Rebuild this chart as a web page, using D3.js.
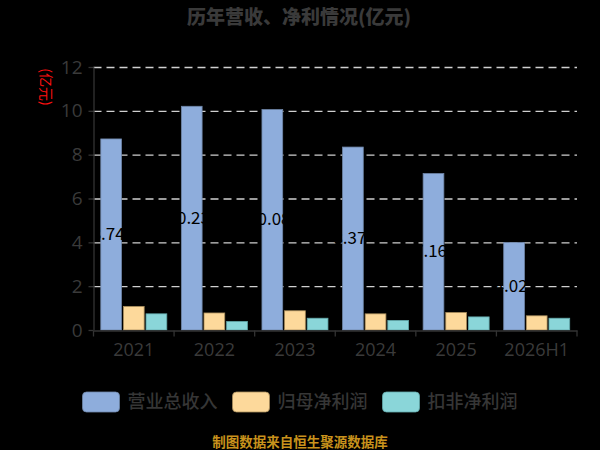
<!DOCTYPE html>
<html>
<head>
<meta charset="utf-8">
<script src="https://cdn.jsdelivr.net/npm/d3@7"></script>
<style>
  html, body { margin: 0; padding: 0; background: #000; }
  svg text { font-family: "Noto Sans CJK SC", "Noto Sans", sans-serif; }
</style>
</head>
<body>
<div id="chart"></div>
<script>
const years = ['2021', '2022', '2023', '2024', '2025', '2026H1'];
const seriesNames = ['营业总收入', '归母净利润', '扣非净利润'];
const revenue = [8.74, 10.23, 10.08, 8.37, 7.16, 4.02];
const netProfit = [1.10, 0.80, 0.90, 0.76, 0.82, 0.67];
const deductedProfit = [0.76, 0.41, 0.56, 0.46, 0.62, 0.56];
const yTicks = [0, 2, 4, 6, 8, 10, 12];

const fills = ['#8eaddc', '#fdd99b', '#8ad6d9'];
const strokes = ['#6f86a8', '#a88d5c', '#63a9ab'];

const rows = years.map((y, i) => ({
  year: y,
  vals: [revenue[i], netProfit[i], deductedProfit[i]]
}));

const svgWidth = 600, svgHeight = 450;
const svg = d3.select('#chart').append('svg')
  .attr('width', svgWidth)
  .attr('height', svgHeight)
  .style('background', '#000');

const x = d3.scaleBand().domain(years).range([93.5, 577]).padding(0);
const xInner = d3.scaleBand().domain([0, 1, 2]).range([0, x.bandwidth()]).paddingOuter(0.3).paddingInner(0.04);
const y = d3.scaleLinear().domain([0, 12]).range([330, 67]);

// title
svg.append('text')
  .attr('x', 299).attr('y', 24)
  .attr('text-anchor', 'middle')
  .attr('font-size', 19).attr('font-weight', 900)
  .attr('fill', '#3a3a3a')
  .text('历年营收、净利情况(亿元)');

// y unit label
svg.append('text')
  .attr('transform', 'translate(41,87) rotate(90)')
  .attr('text-anchor', 'middle')
  .attr('font-size', 14)
  .attr('fill', '#ff1010')
  .text('(亿元)');

// grid lines
svg.append('g').selectAll('line')
  .data(yTicks.filter(d => d > 0))
  .enter().append('line')
  .attr('x1', 93.5).attr('x2', 577)
  .attr('y1', d => y(d) + 0.5).attr('y2', d => y(d) + 0.5)
  .attr('stroke', '#d0d0d0')
  .attr('stroke-width', 1.3)
  .attr('stroke-dasharray', '8,5');

// bars
const groups = svg.append('g').selectAll('g')
  .data(rows)
  .enter().append('g')
  .attr('transform', d => `translate(${x(d.year)},0)`);

groups.selectAll('rect')
  .data(d => d.vals.map((v, k) => ({ v, k })))
  .enter().append('rect')
  .attr('x', d => xInner(d.k) + 0.5)
  .attr('y', d => y(d.v) + 0.5)
  .attr('width', xInner.bandwidth() - 1)
  .attr('height', d => y(0) - y(d.v) - 0.5)
  .attr('fill', d => fills[d.k])
  .attr('stroke', d => strokes[d.k])
  .attr('stroke-width', 0.8);

// value labels on revenue bars (dark text, only readable over the bar)
groups.append('text')
  .attr('x', xInner(0) + xInner.bandwidth() / 2 - 3)
  .attr('y', d => (y(d.vals[0]) + y(0)) / 2)
  .attr('dy', '0.35em')
  .attr('text-anchor', 'middle')
  .attr('font-size', 17)
  .attr('fill', '#000')
  .text(d => d.vals[0].toFixed(2));

// y axis
const yAxis = svg.append('g')
  .attr('transform', 'translate(93.5,0)')
  .call(d3.axisLeft(y).tickValues(yTicks).tickSize(5).tickSizeOuter(0).tickPadding(6));
yAxis.select('.domain').attr('stroke', '#333').attr('stroke-width', 1.3);
yAxis.selectAll('.tick line').attr('stroke', '#333').attr('stroke-width', 1.3);
yAxis.selectAll('.tick text').attr('fill', '#3a3a3a').attr('font-size', 19)
  .style('font-family', '"Open Sans", "Noto Sans", sans-serif');

// x axis
const xAxis = svg.append('g')
  .attr('transform', 'translate(0,330.5)')
  .call(d3.axisBottom(x).tickSize(0).tickPadding(9));
xAxis.select('.domain').attr('stroke', '#333').attr('stroke-width', 1.3);
xAxis.selectAll('.tick text').attr('fill', '#3a3a3a').attr('font-size', 18)
  .attr('dy', '0.9em')
  .style('font-family', '"Open Sans", "Noto Sans", sans-serif');
xAxis.append('g').selectAll('line')
  .data(years.map(d => x(d)).concat([x.range()[1]]))
  .enter().append('line')
  .attr('x1', d => d).attr('x2', d => d)
  .attr('y1', 0).attr('y2', 6)
  .attr('stroke', '#333').attr('stroke-width', 1.3);

// legend
const legendX = [82.5, 232.5, 382.5];
const legend = svg.append('g').selectAll('g')
  .data(seriesNames)
  .enter().append('g')
  .attr('transform', (d, i) => `translate(${legendX[i]},392)`);
legend.append('rect')
  .attr('width', 37).attr('height', 20).attr('rx', 4)
  .attr('fill', (d, i) => fills[i])
  .attr('stroke', (d, i) => strokes[i]).attr('stroke-width', 0.8);
legend.append('text')
  .attr('x', 45).attr('y', 10).attr('dy', '0.36em')
  .attr('font-size', 18).attr('font-weight', 500)
  .attr('fill', '#363636')
  .text(d => d);

// source note
svg.append('text')
  .attr('x', 300).attr('y', 442).attr('dy', '0.35em')
  .attr('text-anchor', 'middle')
  .attr('font-size', 13.5).attr('font-weight', 'bold')
  .attr('fill', '#c8921c')
  .text('制图数据来自恒生聚源数据库');
</script>
</body>
</html>
